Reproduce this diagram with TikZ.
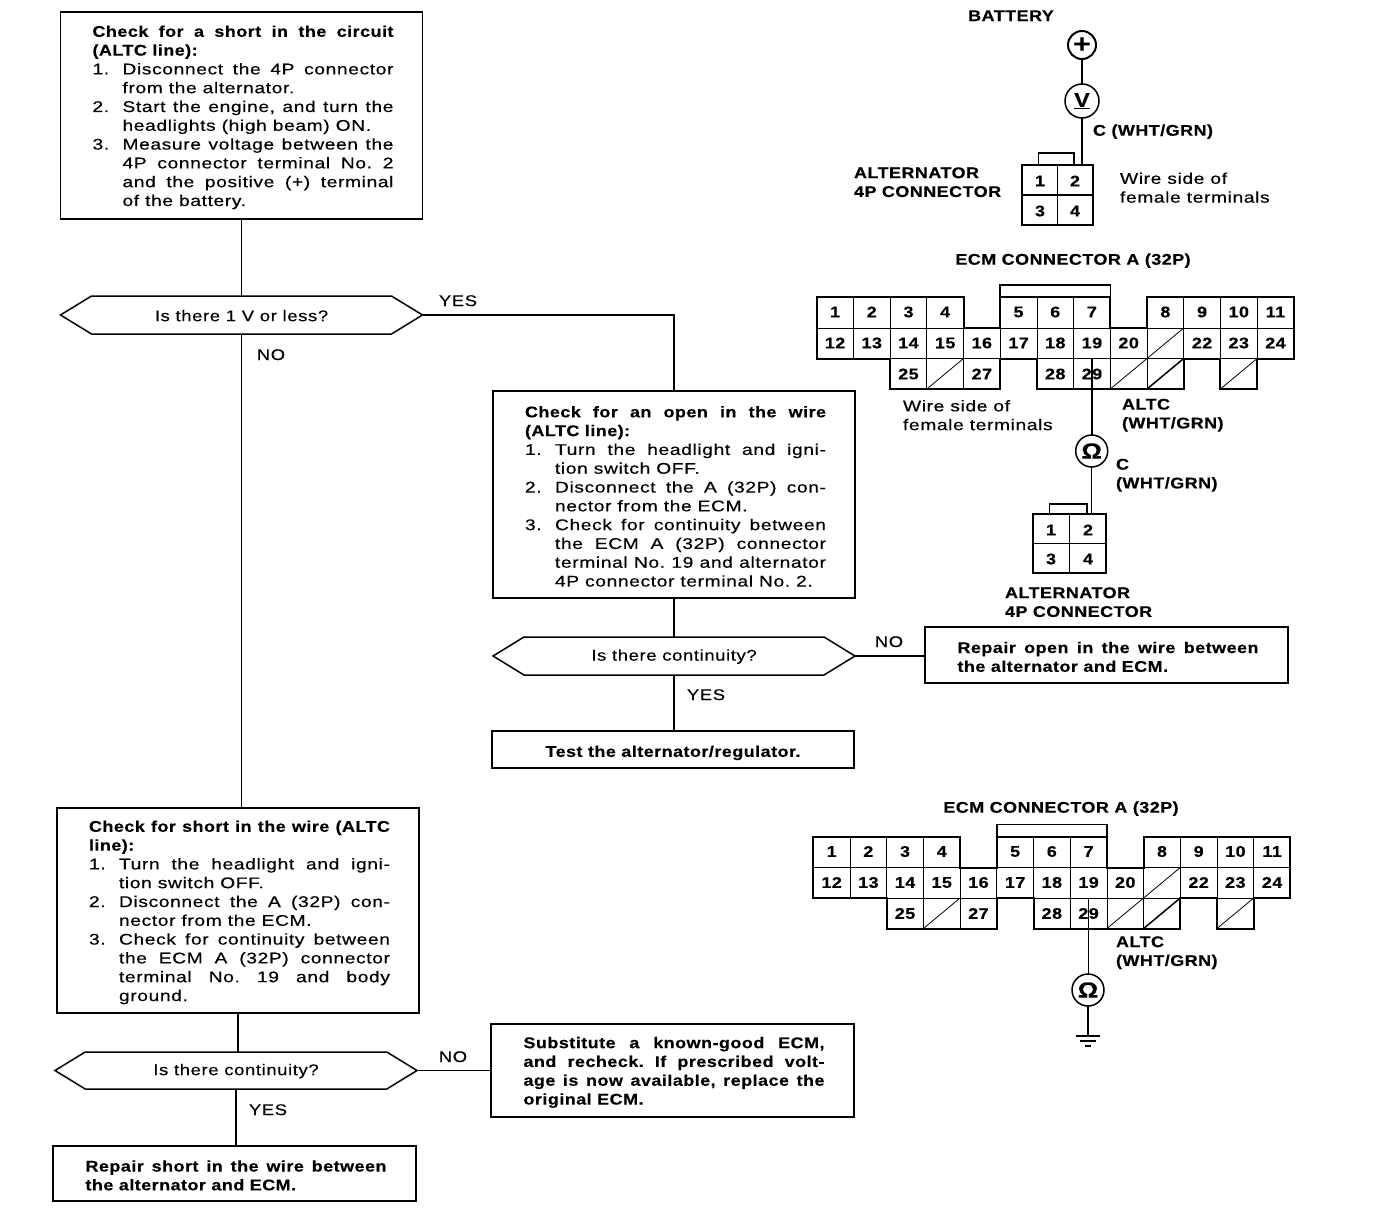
\documentclass[tikz,border=0pt]{standalone}
\usepackage{fontspec}
\usetikzlibrary{shapes.symbols,calc}
\newfontfamily\rgf[FakeStretch=1.24,LetterSpace=4,FakeBold=0.35]{Liberation Sans}
\newfontfamily\dcf[FakeStretch=1.19,LetterSpace=4,FakeBold=0.2]{Liberation Sans}
\newfontfamily\bdf[FakeStretch=1.16,LetterSpace=3,FakeBold=0.3]{Liberation Sans}
\newcommand\frg{\rgf\frenchspacing\fontsize{15.5}{18.8}\selectfont}
\newcommand\fdc{\dcf\frenchspacing\fontsize{15.5}{18.8}\selectfont}
\newcommand\fbd{\bdf\frenchspacing\bfseries\fontsize{15.5}{18.8}\selectfont}
\hbadness=10000 \hfuzz=30pt
% first-line strut: drops the whole text block about 2pt in its box
\newcommand\zF{\rule{0pt}{15pt}}
% justified / natural text lines of a box
\newcommand\zH[1]{\kern3pt\makebox[301pt][s]{#1}}
\newcommand\zN[1]{\kern3pt #1}
\newcommand\zI[2]{\kern3pt\makebox[30pt][l]{#1}\makebox[271pt][s]{#2}}
\newcommand\zC[1]{\kern33pt\makebox[271pt][s]{#1}}
\newcommand\zE[1]{\kern33pt #1}
\tikzset{
  x=1pt,y=-1pt,
  boxn/.style={draw,rectangle,line width=1.5pt,outer sep=0pt,inner sep=0pt,align=left,font=\frg},
  hexn/.style={draw,signal,signal to=west and east,signal pointer angle=63,line width=1.5pt,outer sep=0pt,inner sep=0pt,font=\fdc},
  wire/.style={line width=1.5pt},
  lab/.style={inner sep=0pt,outer sep=0pt,font=\frg,align=left,yshift=-0.7pt},
  dlab/.style={inner sep=0pt,outer sep=0pt,font=\fdc,yshift=-0.7pt},
  blab/.style={inner sep=0pt,outer sep=0pt,font=\fbd,align=left,yshift=-0.7pt},
  cellnum/.style={inner sep=0pt,outer sep=0pt,font=\fbd},
  meter/.style={draw,circle,line width=1.5pt,inner sep=0pt,outer sep=0pt,minimum size=32pt},
  thinl/.style={line width=0.8pt},
  thickl/.style={line width=2pt,line join=miter},
}
\newcommand\ecmconn[3]{%
 \begin{scope}[shift={(#2,#3)}]
  \def\u{36.7}
  \draw[thinl] (0,31)--(13*\u,31) (2*\u,61.5)--(10*\u,61.5) (11*\u,61.5)--(12*\u,61.5);
  \foreach \k in {1,2,3,6,7,10,11,12} \draw[thinl] (\k*\u,0)--(\k*\u,31);
  \foreach \k in {1,...,12} \draw[thinl] (\k*\u,31)--(\k*\u,61.5);
  \foreach \k in {3,4,7,8,9} \draw[thinl] (\k*\u,61.5)--(\k*\u,92);
  \draw[thickl] (0,0)--(4*\u,0)--(4*\u,31)--(5*\u,31)--(5*\u,0)--(8*\u,0)--(8*\u,31)--(9*\u,31)--(9*\u,0)--(13*\u,0)--(13*\u,61.5)--(12*\u,61.5)--(12*\u,92)--(11*\u,92)--(11*\u,61.5)--(10*\u,61.5)--(10*\u,92)--(6*\u,92)--(6*\u,61.5)--(5*\u,61.5)--(5*\u,92)--(2*\u,92)--(2*\u,61.5)--(0,61.5)--cycle;
  \draw[wire] (5*\u,0)--(5*\u,-12)--(8*\u,-12)--(8*\u,0);
  \draw[thinl] (9*\u,61.5)--(10*\u,31) (3*\u,92)--(4*\u,61.5) (8*\u,92)--(9*\u,61.5) (11*\u,92)--(12*\u,61.5);
  \draw[wire] (9*\u,92)--(10*\u,61.5);
  \foreach \nn/\cc in {1/0,2/1,3/2,4/3,5/5,6/6,7/7,8/9,9/10,10/11,11/12}
    \node[cellnum] (#1-\nn) at ({(\cc+0.5)*\u},15) {\nn};
  \foreach \nn/\cc in {12/0,13/1,14/2,15/3,16/4,17/5,18/6,19/7,20/8,22/10,23/11,24/12}
    \node[cellnum] (#1-\nn) at ({(\cc+0.5)*\u},46) {\nn};
  \foreach \nn/\cc in {25/2,27/4,28/6,29/7}
    \node[cellnum] (#1-\nn) at ({(\cc+0.5)*\u},77) {\nn};
  \coordinate (#1-w) at (7.5*\u,61.5);
 \end{scope}}
\newcommand\fourp[6]{% name, x1,y1,x2,y2, clip-top y
 \draw[thickl] (#2,#3) rectangle (#4,#5);
 \draw[thinl,line width=1.2pt] ({(#2+#4)/2},#3)--({(#2+#4)/2},#5) (#2,{(#3+#5)/2})--(#4,{(#3+#5)/2});
 \draw[thinl,line width=1.2pt] ({#2+16.5},#3)--({#2+16.5},#6)--({#4-19},#6)--({#4-19},#3);
 \node[cellnum] (#1-1) at ({#2+18},{#3+16}) {1};
 \node[cellnum] (#1-2) at ({#4-18},{#3+16}) {2};
 \node[cellnum] (#1-3) at ({#2+18},{#5-14}) {3};
 \node[cellnum] (#1-4) at ({#4-18},{#5-14}) {4};
 \coordinate (#1-t) at ({#4-11},#3);
}
\begin{document}
\begin{tikzpicture}
\useasboundingbox[fill=white] (0,0) rectangle (1376,1228);

% --- flow boxes
\node[boxn,minimum width=362pt,minimum height=207pt] (box1) at (241.5,115.5) {%
 \zF\zH{\fbd Check for a short in the circuit}\\
 \zN{\fbd (ALTC line):}\\
 \zI{1.}{Disconnect the 4P connector}\\
 \zE{from the alternator.}\\
 \zI{2.}{Start the engine, and turn the}\\
 \zE{headlights (high beam) ON.}\\
 \zI{3.}{Measure voltage between the}\\
 \zC{4P connector terminal No. 2}\\
 \zC{and the positive (+) terminal}\\
 \zE{of the battery.}};
\node[hexn,minimum width=362pt,minimum height=38pt] (hex1) at (241.5,315) {\rule{0pt}{12.5pt}Is there 1 V or less?};
\node[dlab] (yes1) at (458,300) {YES};
\node[dlab] (no1) at (271,354) {NO};

\node[boxn,minimum width=362pt,minimum height=207pt] (box2) at (674,494.5) {%
 \zF\zH{\fbd Check for an open in the wire}\\
 \zN{\fbd (ALTC line):}\\
 \zI{1.}{Turn the headlight and igni-}\\
 \zE{tion switch OFF.}\\
 \zI{2.}{Disconnect the A (32P) con-}\\
 \zE{nector from the ECM.}\\
 \zI{3.}{Check for continuity between}\\
 \zC{the ECM A (32P) connector}\\
 \zC{terminal No. 19 and alternator}\\
 \zE{4P connector terminal No. 2.}};
\node[hexn,minimum width=362pt,minimum height=38pt] (hex2) at (674,656) {\rule{0pt}{12.5pt}Is there continuity?};
\node[dlab] (no2) at (889,641) {NO};
\node[dlab] (yes2) at (706,694) {YES};
\node[boxn,minimum width=363pt,minimum height=56pt] (rep1) at (1106.5,655) {%
 \zF\zH{\fbd Repair open in the wire between}\\
 \zN{\fbd the alternator and ECM.}};
\node[boxn,minimum width=362pt,minimum height=37pt,font=\fbd] (test) at (673,749.5) {\rule{0pt}{18pt}Test the alternator/regulator.};

\node[boxn,minimum width=362pt,minimum height=205pt] (box3) at (238,910.5) {%
 \zF\zH{\fbd Check for short in the wire (ALTC}\\
 \zN{\fbd line):}\\
 \zI{1.}{Turn the headlight and igni-}\\
 \zE{tion switch OFF.}\\
 \zI{2.}{Disconnect the A (32P) con-}\\
 \zE{nector from the ECM.}\\
 \zI{3.}{Check for continuity between}\\
 \zC{the ECM A (32P) connector}\\
 \zC{terminal No. 19 and body}\\
 \zE{ground.}};
\node[hexn,minimum width=362pt,minimum height=37pt] (hex3) at (236,1070.5) {\rule{0pt}{12.5pt}Is there continuity?};
\node[dlab] (no3) at (453,1056) {NO};
\node[dlab] (yes3) at (268,1109) {YES};
\node[boxn,minimum width=363pt,minimum height=93pt] (sub) at (672.5,1070.5) {%
 \zF\zH{\fbd Substitute a known-good ECM,}\\
 \zH{\fbd and recheck. If prescribed volt-}\\
 \zH{\fbd age is now available, replace the}\\
 \zN{\fbd original ECM.}};
\node[boxn,minimum width=363pt,minimum height=55pt] (rep2) at (234.5,1173.5) {%
 \zF\zH{\fbd Repair short in the wire between}\\
 \zN{\fbd the alternator and ECM.}};

% --- flow connectors
\draw[wire] (box1.south) -- (box1.south |- hex1.north);
\draw[wire] (hex1.south) -- (hex1.south |- box3.north);
\draw[wire] (hex1.east) -| (box2.north);
\draw[wire] (box2.south) -- (box2.south |- hex2.north);
\draw[wire] (hex2.east) -- (hex2.east -| rep1.west);
\draw[wire] (hex2.south) -- (hex2.south |- test.north);
\draw[wire] (box3.south) -- (box3.south |- hex3.north);
\draw[wire] (hex3.east) -- (hex3.east -| sub.west);
\draw[wire] (hex3.south) -- (hex3.south |- rep2.north);

% --- battery test diagram
\node[blab] (batt) at (1011,15) {BATTERY};
\node[meter,minimum size=28pt,line width=2pt,font=\bdf\bfseries\fontsize{26}{26}\selectfont] (plus) at (1082,45) {+};
\node[meter,minimum size=34pt,font=\fbd\fontsize{20}{20}\selectfont] (volt) at (1082,101) {\underline{V}};
\fourp{ca}{1022}{165}{1093}{225}{153}
\draw[wire] (plus) -- (volt);
\draw[wire] (volt.south) -- (volt.south |- ca-t);
\node[blab,anchor=west] (cwire) at (1093,131) {C (WHT/GRN)};
\node[blab,anchor=west] (altA) at (854,181.5) {ALTERNATOR\\4P CONNECTOR};
\node[lab,anchor=west] (wsA) at (1120,187) {Wire side of\\female terminals};

% --- ECM connector, continuity to alternator
\node[blab] (ecmT1) at (1073,260) {ECM CONNECTOR A (32P)};
\ecmconn{ea}{816.7}{297}
\node[lab,anchor=west] (wsB) at (903,414.5) {Wire side of\\female terminals};
\node[blab,anchor=west] (altcA) at (1122,414.5) {ALTC\\(WHT/GRN)};
\node[meter,font=\fbd\fontsize{22}{22}\selectfont] (ohmA) at (1091.7,451) {Ω};
\draw[wire] (ea-w) -- (ea-w |- ohmA.north);
\node[blab,anchor=west] (cB) at (1116,474.5) {C\\(WHT/GRN)};
\fourp{cb}{1033}{514}{1106}{573}{504}
\draw[wire] (ohmA.south) -- (ohmA.south |- cb-t);
\node[blab,anchor=west] (altB) at (1005,601.5) {ALTERNATOR\\4P CONNECTOR};

% --- ECM connector, continuity to ground
\node[blab] (ecmT2) at (1061,808) {ECM CONNECTOR A (32P)};
\ecmconn{eb}{813.3}{836.5}
\node[blab,anchor=west] (altcB) at (1116,952) {ALTC\\(WHT/GRN)};
\node[meter,font=\fbd\fontsize{22}{22}\selectfont] (ohmB) at (1088,990) {Ω};
\draw[wire] (eb-w) -- (eb-w |- ohmB.north);
\coordinate (gnd) at (1088,1036);
\draw[wire] (ohmB.south) -- (gnd);
\draw[wire] ($(gnd)+(-12,0)$) -- ($(gnd)+(12,0)$);
\draw[wire] ($(gnd)+(-8,5)$) -- ($(gnd)+(8,5)$);
\draw[wire] ($(gnd)+(-3,10)$) -- ($(gnd)+(3,10)$);
\end{tikzpicture}
\end{document}
